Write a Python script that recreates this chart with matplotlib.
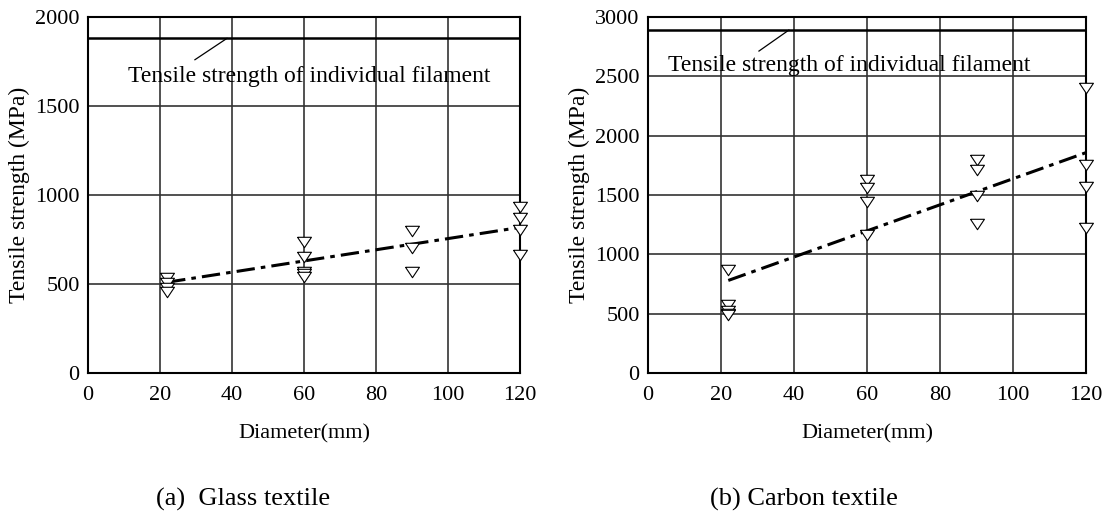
import numpy as np
import matplotlib
matplotlib.use("Agg")
import matplotlib.pyplot as plt

plt.rcParams["font.family"] = ["Liberation Serif", "DejaVu Serif"]

# glass textile, diameter (mm) vs tensile strength (MPa)
glass_d = [22, 22, 22, 22, 60, 60, 60, 60, 60, 90, 90, 90, 120, 120, 120, 120]
glass_s = [535, 505, 480, 455, 735, 650, 570, 555, 540, 800, 700, 570, 935, 870, 805, 665]
glass_fit_d = [22, 120]
glass_fit_s = [510, 818]
glass_filament = 1880

# carbon textile
carbon_d = [22, 22, 22, 22, 22, 60, 60, 60, 60, 90, 90, 90, 90, 120, 120, 120, 120]
carbon_s = [865, 575, 520, 500, 485, 1623, 1560, 1440, 1165, 1798, 1711, 1494, 1255,
            2400, 1755, 1570, 1225]
carbon_fit_d = [22, 120]
carbon_fit_s = [780, 1857]
carbon_filament = 2890

xticks = [0, 20, 40, 60, 80, 100, 120]
label_txt = "Tensile strength of individual filament"

# flat downward triangle, a bit wider than tall
tri = [(-1, 0.75), (1, 0.75), (0, -0.75), (-1, 0.75)]


def panel(ax, d, s, fit_d, fit_s, filament, ymax, ystep, txt_xy, arrow_from, arrow_to):
    ax.plot(d, s, marker=tri, ms=10, mfc="white", mec="black", mew=0.8, ls="none",
            zorder=4, clip_on=False)
    ax.plot(fit_d, fit_s, color="black", lw=2.2, ls=(0, (6, 2, 1.5, 2)), zorder=3)
    ax.axhline(filament, color="black", lw=1.8, zorder=3)
    ax.plot([arrow_from[0], arrow_to[0]], [arrow_from[1], arrow_to[1]], color="black", lw=0.9)
    ax.text(txt_xy[0], txt_xy[1], label_txt, fontsize=17, va="center", ha="left", zorder=5)

    ax.set_xlim(0, 120)
    ax.set_ylim(0, ymax)
    ax.set_xticks(xticks)
    ax.set_yticks(np.arange(0, ymax + 1, ystep))
    ax.grid(True, color="#333333", lw=1.2)
    ax.set_axisbelow(True)
    ax.tick_params(length=0, labelsize=16)
    ax.tick_params(axis="y", pad=6)
    ax.tick_params(axis="x", pad=9)
    for sp in ax.spines.values():
        sp.set_linewidth(1.5)
    ax.set_xlabel("Diameter(mm)", fontsize=16, labelpad=14)
    ax.set_ylabel("Tensile strength (MPa)", fontsize=17, labelpad=4)


fig = plt.figure(figsize=(11.05, 5.13), dpi=100)
ax1 = fig.add_axes([88 / 1105, 1 - 373 / 513, 432 / 1105, 356 / 513])
ax2 = fig.add_axes([648 / 1105, 1 - 373 / 513, 438 / 1105, 356 / 513])

panel(ax1, glass_d, glass_s, glass_fit_d, glass_fit_s, glass_filament, 2000, 500,
      (11.1, 1665), (29.7, 1760), (38.6, glass_filament))
panel(ax2, carbon_d, carbon_s, carbon_fit_d, carbon_fit_s, carbon_filament, 3000, 500,
      (5.5, 2595), (30.4, 2713), (38.6, carbon_filament))

fig.text(243 / 1105, 1 - 499 / 513, "(a)  Glass textile", fontsize=19, ha="center", va="center")
fig.text(804 / 1105, 1 - 499 / 513, "(b) Carbon textile", fontsize=19, ha="center", va="center")

fig.savefig("out.png", dpi=100)
